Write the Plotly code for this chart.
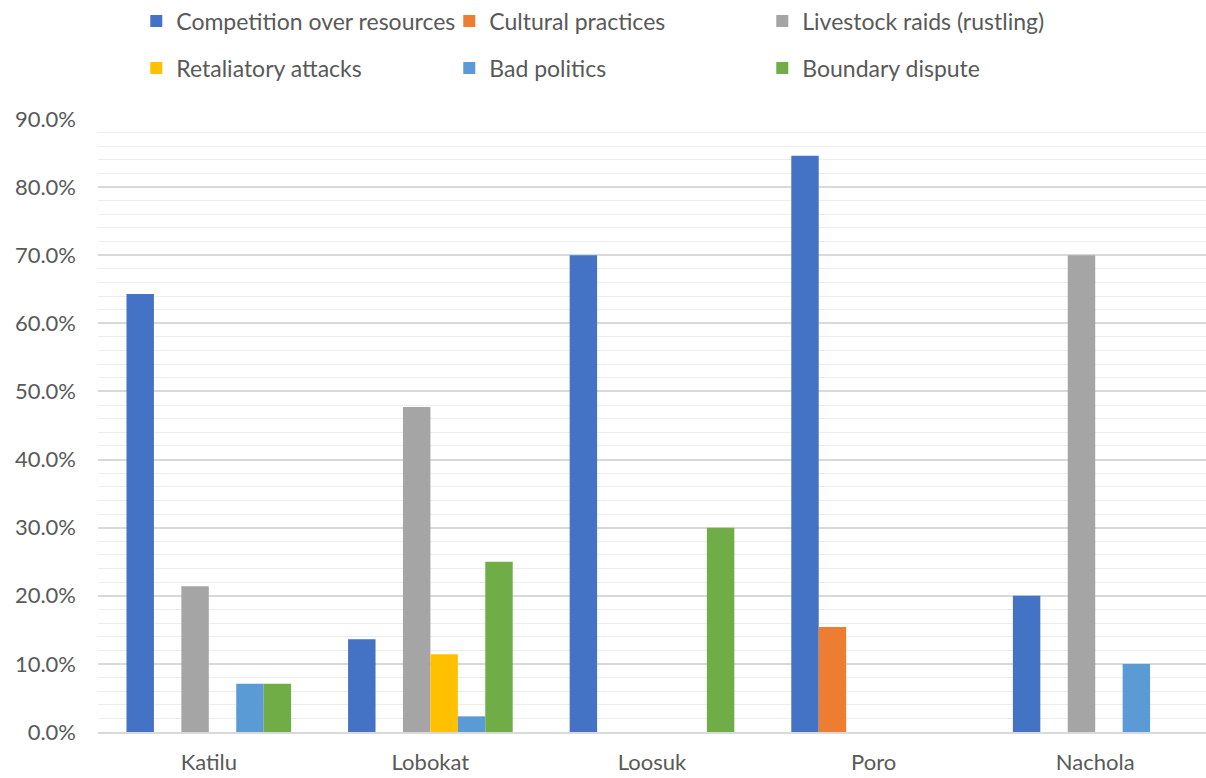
import plotly.graph_objects as go

# Share of respondents citing each cause of conflict, by location
locations = ["Katilu", "Lobokat", "Loosuk", "Poro", "Nachola"]

competition_over_resources = [0.643, 0.136, 0.700, 0.846, 0.200]
cultural_practices = [0.0, 0.0, 0.0, 0.154, 0.0]
livestock_raids = [0.214, 0.477, 0.0, 0.0, 0.700]
retaliatory_attacks = [0.0, 0.114, 0.0, 0.0, 0.0]
bad_politics = [0.071, 0.023, 0.0, 0.0, 0.100]
boundary_dispute = [0.071, 0.250, 0.300, 0.0, 0.0]

series = [
    ("Competition over resources", competition_over_resources, "#4472C4", "legend"),
    ("Cultural practices", cultural_practices, "#ED7D31", "legend"),
    ("Livestock raids (rustling)", livestock_raids, "#A5A5A5", "legend"),
    ("Retaliatory attacks", retaliatory_attacks, "#FFC000", "legend2"),
    ("Bad politics", bad_politics, "#5B9BD5", "legend2"),
    ("Boundary dispute", boundary_dispute, "#70AD47", "legend2"),
]

FONT = "Lato"
TEXT = "#595959"
TICK_SIZE = 22
LEGEND_SIZE = 23

fig = go.Figure()
for name, vals, color, leg in series:
    fig.add_trace(go.Bar(
        name=name, x=locations, y=vals,
        marker=dict(color=color, line=dict(width=0)),
        legend=leg,
    ))

legend_common = dict(
    orientation="h",
    xref="container", yref="container",
    xanchor="left", yanchor="middle",
    entrywidth=268, entrywidthmode="pixels",
    font=dict(family=FONT, size=LEGEND_SIZE, color=TEXT),
    bgcolor="rgba(0,0,0,0)",
    itemwidth=30,
    traceorder="normal",
)

fig.update_layout(
    width=1206, height=778,
    paper_bgcolor="white", plot_bgcolor="white",
    barmode="group", bargap=0.257, bargroupgap=0,
    margin=dict(l=98, r=0, t=119, b=46),
    font=dict(family=FONT, size=TICK_SIZE, color=TEXT),
    legend=dict(x=0.113, y=1 - 21 / 778, **legend_common),
    legend2=dict(x=0.113, y=1 - 68 / 778, **legend_common),
    xaxis=dict(
        showgrid=False, showline=True, linecolor="#D9D9D9", linewidth=1.5,
        ticks="", ticklabelstandoff=10, automargin=False,
        tickfont=dict(family=FONT, size=TICK_SIZE, color=TEXT),
    ),
    yaxis=dict(
        range=[0, 0.9], dtick=0.1, tickformat=".1%",
        showgrid=True, gridcolor="#D9D9D9", gridwidth=1.5,
        zeroline=False, showline=False, ticks="",
        ticklabelstandoff=21, automargin=False,
        tickfont=dict(family=FONT, size=TICK_SIZE, color=TEXT),
        minor=dict(dtick=0.02, showgrid=True, gridcolor="#EDEDED", gridwidth=1),
    ),
)

fig.write_html("out.html")
